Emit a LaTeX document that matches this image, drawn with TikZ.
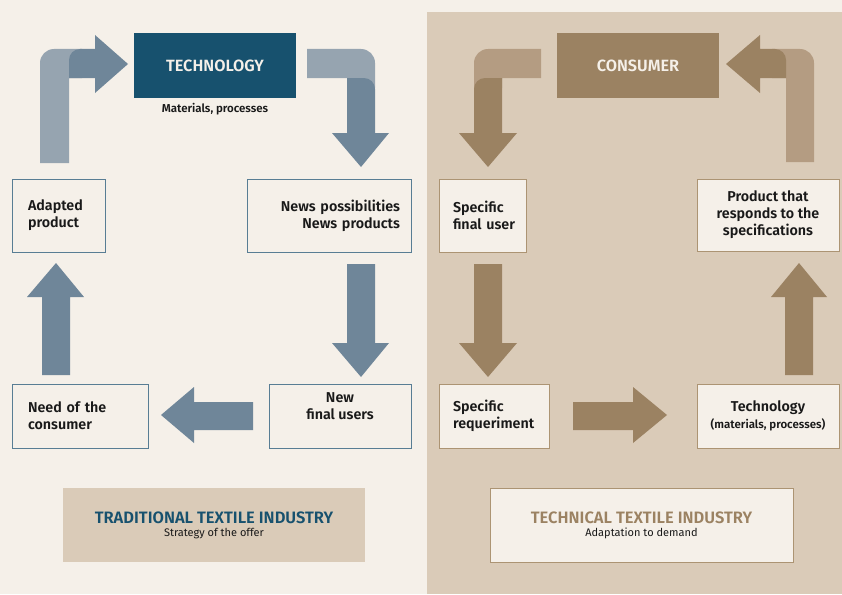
\documentclass[tikz,border=0pt]{standalone}
\usepackage{fontspec}
\setmainfont{Fira Sans}[BoldFont={Fira Sans SemiBold}]
\usepackage{xcolor}
\usetikzlibrary{positioning}
\definecolor{paper}{RGB}{245, 240, 233}
\definecolor{sand}{RGB}{218, 203, 184}
\definecolor{petrol}{RGB}{23, 81, 110}
\definecolor{steel}{RGB}{111, 134, 153}
\definecolor{steellight}{RGB}{150, 164, 176}
\definecolor{steelline}{RGB}{88, 125, 148}
\definecolor{umber}{RGB}{155, 130, 98}
\definecolor{umberlight}{RGB}{180, 156, 130}
\definecolor{umberline}{RGB}{172, 148, 115}
\definecolor{ink}{RGB}{25, 25, 25}

\begin{document}
\begin{tikzpicture}[x=1pt, y=-1pt,
    stage/.style={draw=steelline, line width=0.9pt, fill=paper, text=ink,
                  inner ysep=0pt, font=\bfseries\fontsize{14.3}{17}\selectfont},
    need/.style={stage, draw=umberline},
    head/.style={inner sep=0pt, minimum width=162pt, minimum height=65pt,
                 text=paper, font=\bfseries\fontsize{16.3}{18}\selectfont},
    shaft/.style={fill=steel},
    elbow/.style={fill=steellight},
    ushaft/.style={fill=umber},
    uelbow/.style={fill=umberlight},
    legend/.style={minimum width=302pt, minimum height=74pt, align=center}
]
    % backgrounds
    \fill[paper] (0,0) rectangle (842,594);
    \fill[sand] (427,12) rectangle (842,594);
    \useasboundingbox (0,0) rectangle (842,594);

    % traditional textile industry
    \node[head, fill=petrol] (technology) at (215,65.5) {TECHNOLOGY};
    \node[below=5pt of technology, inner sep=0pt, text=ink,
          font=\bfseries\fontsize{11.5}{13}\selectfont] (techsub) {Materials, processes};
    \node[stage, align=left, text width=61pt, inner xsep=16pt, minimum height=73pt]
        (adapted) at (58.5,215.5) {Adapted\\product};
    \node[stage, align=right, text width=142pt, inner xsep=11pt, minimum height=73pt]
        (newsposs) at (329,215.5) {News possibilities\\News products};
    \node[stage, align=left, text width=104pt, inner xsep=16pt, minimum height=64pt]
        (needcons) at (80,416) {Need of the\\consumer};
    \node[stage, align=center, minimum width=142pt, minimum height=64pt]
        (newusers) at (340,416) {New\\final users\\[2pt]};

    \fill[elbow] (40,163) [rounded corners=14pt] -- (40,49) [sharp corners] -- (82,49)
        -- (82,78) -- (69,78) -- (69,163) -- cycle;
    \fill[shaft] (69,78) [rounded corners=11pt] -- (69,49) [sharp corners] -- (95,49)
        -- (95,35) -- (128,64) -- (95,93) -- (95,78) -- cycle;
    \fill[elbow] (307,49) [rounded corners=14pt] -- (375,49) [sharp corners] -- (375,88)
        -- (347,88) -- (347,78) -- (307,78) -- cycle;
    \fill[shaft] (347,133) -- (347,78) [rounded corners=11pt] -- (375,78) [sharp corners]
        -- (375,133) -- (389,133) -- (361,167) -- (332,133) -- cycle;
    \fill[shaft] (347,264) -- (375,264) -- (375,343) -- (389,343) -- (361,377)
        -- (332,343) -- (347,343) -- cycle;
    \fill[shaft] (253,402) -- (253,430) -- (194,430) -- (194,443) -- (161,415)
        -- (194,387) -- (194,402) -- cycle;
    \fill[shaft] (42,375) -- (70,375) -- (70,297) -- (84,297) -- (56,263)
        -- (27,297) -- (42,297) -- cycle;

    \node[legend, fill=sand] (traditional) at (214,525) {%
        {\bfseries\fontsize{16.5}{18}\selectfont\color{petrol}TRADITIONAL TEXTILE INDUSTRY}\\[1pt]
        {\fontsize{11}{13}\selectfont\color{ink}Strategy of the offer}};

    % technical textile industry
    \node[head, fill=umber] (consumer) at (638,65.5) {CONSUMER};
    \node[need, align=left, text width=59pt, inner xsep=14pt, minimum height=73pt]
        (finaluser) at (482.5,215.5) {Specific\\final~user};
    \node[need, align=center, minimum width=142pt, minimum height=72pt]
        (responds) at (768,215) {Product that\\responds to the\\specifications};
    \node[need, align=left, text width=82pt, inner xsep=14pt, minimum height=64pt]
        (requirement) at (494,416) {Specific\\requeriment};
    \node[need, align=center, minimum width=142pt, minimum height=64pt]
        (techmat) at (768,416) {Technology\\{\fontsize{11.5}{13}\selectfont(materials, processes)}};

    \fill[uelbow] (541,49) [rounded corners=14pt] -- (474,49) [sharp corners] -- (474,88)
        -- (502,88) -- (502,78) -- (541,78) -- cycle;
    \fill[ushaft] (502,133) -- (502,78) [rounded corners=11pt] -- (474,78) [sharp corners]
        -- (474,133) -- (459,133) -- (488,167) -- (517,133) -- cycle;
    \fill[uelbow] (786,162) -- (814,162) [rounded corners=14pt] -- (814,49) [sharp corners]
        -- (772,49) -- (772,78) -- (786,78) -- cycle;
    \fill[ushaft] (786,78) [rounded corners=11pt] -- (786,49) [sharp corners] -- (760,49)
        -- (760,35) -- (726,64) -- (760,93) -- (760,78) -- cycle;
    \fill[ushaft] (474,264) -- (502,264) -- (502,343) -- (517,343) -- (488,377)
        -- (459,343) -- (474,343) -- cycle;
    \fill[ushaft] (573,402) -- (633,402) -- (633,387) -- (667,415) -- (633,443)
        -- (633,430) -- (573,430) -- cycle;
    \fill[ushaft] (785,375) -- (813,375) -- (813,297) -- (827,297) -- (799,263)
        -- (771,297) -- (785,297) -- cycle;

    \node[legend, draw=umberline, line width=0.9pt, fill=paper, minimum width=303pt]
        (technical) at (641.5,525) {%
        {\bfseries\fontsize{16.5}{18}\selectfont\color{umber}TECHNICAL TEXTILE INDUSTRY}\\[1pt]
        {\fontsize{11}{13}\selectfont\color{ink}Adaptation to demand}};
\end{tikzpicture}
\end{document}
